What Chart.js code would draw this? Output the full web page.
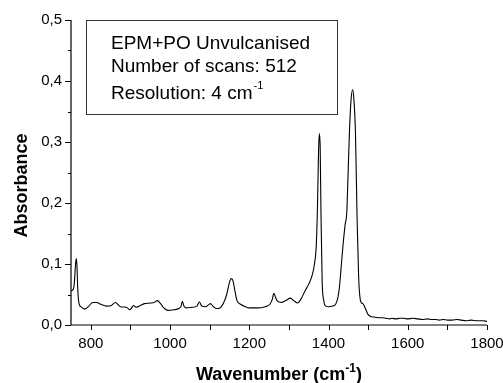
<!DOCTYPE html>
<html><head><meta charset="utf-8">
<script src="https://cdn.jsdelivr.net/npm/chart.js@4.4.0/dist/chart.umd.min.js"></script>
<style>html,body{margin:0;padding:0;background:#fff}#wrap{width:503px;height:383px}</style>
</head><body><div id="wrap"><canvas id="c" width="503" height="383"></canvas></div>
<script>
const wavenumber = [750,755,758,761,763,765,767,770,775,785,795,805,815,825,840,852,862,868,875,890,899,903,908,914,925,935,950,960,968,975,983,995,1010,1022,1028,1031,1035,1040,1055,1068,1074,1080,1090,1097,1102,1108,1116,1126,1135,1143,1150,1155,1159,1164,1169,1178,1190,1200,1220,1240,1252,1258,1262,1266,1271,1281,1292,1304,1312,1322,1330,1340,1350,1358,1364,1369,1372,1375,1377,1379,1381,1384,1388,1393,1400,1410,1418,1424,1428,1432,1437,1442,1446,1449,1453,1457,1461,1464,1468,1472,1476,1480,1484,1488,1493,1500,1506,1515,1525,1535,1545,1555,1560,1570,1580,1590,1600,1612,1625,1637,1650,1660,1670,1680,1690,1700,1712,1725,1735,1747,1760,1775,1790,1800];
const absorbance = [0.056,0.058,0.066,0.095,0.109,0.098,0.060,0.036,0.030,0.026,0.031,0.037,0.037,0.034,0.031,0.032,0.037,0.034,0.030,0.029,0.025,0.028,0.032,0.029,0.032,0.035,0.036,0.037,0.040,0.036,0.029,0.024,0.025,0.027,0.031,0.039,0.031,0.028,0.029,0.031,0.038,0.031,0.030,0.033,0.035,0.031,0.027,0.028,0.036,0.050,0.070,0.076,0.072,0.055,0.040,0.034,0.030,0.028,0.028,0.030,0.034,0.042,0.052,0.046,0.039,0.037,0.040,0.044,0.040,0.036,0.042,0.055,0.067,0.080,0.098,0.130,0.190,0.290,0.314,0.290,0.180,0.070,0.040,0.031,0.030,0.031,0.034,0.046,0.065,0.096,0.134,0.165,0.184,0.240,0.320,0.370,0.386,0.370,0.315,0.178,0.079,0.042,0.036,0.034,0.027,0.017,0.014,0.013,0.012,0.012,0.011,0.010,0.011,0.010,0.011,0.011,0.010,0.011,0.010,0.009,0.010,0.009,0.009,0.008,0.009,0.008,0.008,0.009,0.008,0.007,0.008,0.007,0.007,0.006,0.006];
const xTickValues = [800,900,1000,1100,1200,1300,1400,1500,1600,1700,1800];
const yTickValues = [0,0.05,0.1,0.15,0.2,0.25,0.3,0.35,0.4,0.45,0.5];
const xTitle = 'Wavenumber (cm';
const yTitle = 'Absorbance';
const boxLines = ['EPM+PO Unvulcanised','Number of scans: 512','Resolution: 4 cm'];

const FONT = '"Liberation Sans", Arial, sans-serif';

const decor = {
  id: 'decor',
  afterDraw(chart) {
    const ctx = chart.ctx;
    const xs = chart.scales.x, ys = chart.scales.y;
    const area = chart.chartArea;
    ctx.save();
    ctx.strokeStyle = '#000'; ctx.lineWidth = 1.2;
    ctx.beginPath();
    ctx.moveTo(area.left, area.top); ctx.lineTo(area.left, area.bottom); ctx.lineTo(area.right, area.bottom);
    ctx.stroke();
    ctx.lineWidth = 1;
    ctx.beginPath();
    xTickValues.forEach(v => { const p = Math.round(xs.getPixelForValue(v)) + 0.5; ctx.moveTo(p, area.bottom); ctx.lineTo(p, area.bottom + 5); });
    yTickValues.forEach((v, i) => { const p = Math.round(ys.getPixelForValue(v)) + 0.5; const len = (i % 2 === 0) ? 6 : 3; ctx.moveTo(area.left, p); ctx.lineTo(area.left - len, p); });
    ctx.stroke();
    ctx.strokeStyle = '#333'; ctx.lineWidth = 1;
    ctx.strokeRect(86.5, 20.5, 251, 94);
    ctx.fillStyle = '#000';
    ctx.font = '19px ' + FONT;
    ctx.textBaseline = 'alphabetic'; ctx.textAlign = 'left';
    const bx = 111, bys = [48.5, 71.5, 99];
    boxLines.forEach((t, i) => ctx.fillText(t, bx, bys[i]));
    let w = ctx.measureText(boxLines[2]).width;
    ctx.font = '11px ' + FONT;
    ctx.fillText('-1', bx + w + 1, 88.5);
    ctx.font = 'bold 18px ' + FONT;
    const w1 = ctx.measureText(xTitle).width;
    ctx.font = 'bold 12px ' + FONT;
    const w2 = ctx.measureText('-1').width;
    ctx.font = 'bold 18px ' + FONT;
    const w3 = ctx.measureText(')').width;
    const cx = (area.left + area.right) / 2;
    let sx = cx - (w1 + w2 + w3) / 2;
    ctx.fillText(xTitle, sx, 380);
    ctx.font = 'bold 12px ' + FONT;
    ctx.fillText('-1', sx + w1, 372);
    ctx.font = 'bold 18px ' + FONT;
    ctx.fillText(')', sx + w1 + w2, 380);
    ctx.translate(27, 185.5);
    ctx.rotate(-Math.PI / 2);
    ctx.textAlign = 'center';
    ctx.fillText(yTitle, 0, 0);
    ctx.restore();
  }
};

new Chart(document.getElementById('c'), {
  type: 'line',
  data: { datasets: [{ data: wavenumber.map((x, i) => ({ x, y: absorbance[i] })), borderColor: '#000', borderWidth: 1.1, pointRadius: 0, fill: false, cubicInterpolationMode: 'monotone' }] },
  options: {
    responsive: false, animation: false, devicePixelRatio: 1,
    layout: { padding: { left: 0, right: 16, top: 20, bottom: 0 } },
    plugins: { legend: { display: false }, tooltip: { enabled: false } },
    scales: {
      x: {
        type: 'linear', min: 750, max: 1800,
        afterBuildTicks: s => { s.ticks = xTickValues.map(v => ({ value: v })); },
        afterFit: s => { s.height = 58; s.paddingLeft = 0; s.paddingRight = 0; },
        grid: { display: false, drawTicks: false },
        border: { display: false },
        ticks: { padding: 10, color: '#000', font: { family: FONT, size: 15 }, maxRotation: 0, autoSkip: false,
          callback: v => (v % 200 === 0 ? String(v) : '') }
      },
      y: {
        min: 0, max: 0.5,
        afterBuildTicks: s => { s.ticks = yTickValues.map(v => ({ value: v })); },
        afterFit: s => { s.width = 71; s.paddingTop = 0; s.paddingBottom = 0; },
        grid: { display: false, drawTicks: false },
        border: { display: false },
        ticks: { padding: 9, color: '#000', font: { family: FONT, size: 15 }, autoSkip: false,
          callback: v => (Math.abs(v * 10 - Math.round(v * 10)) < 1e-6 ? v.toFixed(1).replace('.', ',') : '') }
      }
    }
  },
  plugins: [decor]
});
</script></body></html>
